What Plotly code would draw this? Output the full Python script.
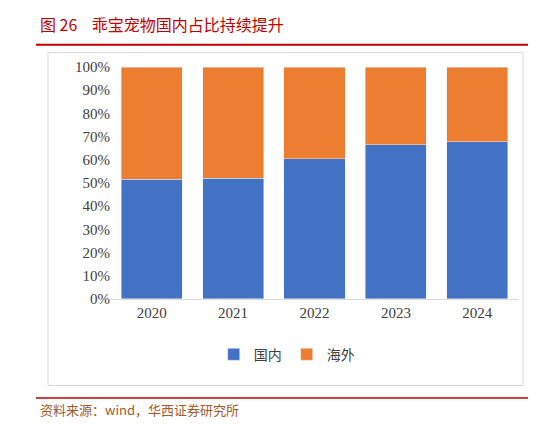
import plotly.graph_objects as go

years = ["2020", "2021", "2022", "2023", "2024"]
domestic = [51.5, 52.0, 60.5, 66.5, 67.8]
overseas = [100 - v for v in domestic]
yticks = [0, 10, 20, 30, 40, 50, 60, 70, 80, 90, 100]
ylabels = [f"{v}%" for v in yticks]

W, H = 536, 424
fig = go.Figure()
fig.add_bar(x=years, y=domestic, name="国内", marker_color="#4472C4", width=0.75)
fig.add_bar(x=years, y=overseas, name="海外", marker_color="#ED7D31", width=0.75)

def px(x): return x / W
def py(y): return 1 - y / H

fig.update_layout(
    width=W, height=H, barmode="stack",
    margin=dict(l=0, r=0, t=0, b=0),
    paper_bgcolor="white", plot_bgcolor="white",
    font=dict(family="Noto Sans CJK SC", size=14, color="#404040"),
    xaxis=dict(domain=[px(103), px(510)], tickfont=dict(family="Liberation Serif", size=15, color="#404040"), showline=True, linecolor="#D9D9D9"),
    yaxis=dict(domain=[py(294), py(53)], range=[0, 100], tickvals=yticks, ticktext=ylabels,
               tickfont=dict(family="Liberation Serif", size=15, color="#404040"), showgrid=False, zeroline=False),
    legend=dict(orientation="h", x=0.52, xanchor="center", y=py(352), yanchor="middle", traceorder="normal",
                font=dict(size=14, color="#404040"), itemwidth=30),
    showlegend=True,
    shapes=[
        dict(type="line", xref="paper", yref="paper", x0=px(28), x1=px(530), y0=py(30), y1=py(30), line=dict(color="#C00000", width=2)),
        dict(type="rect", xref="paper", yref="paper", x0=px(40), x1=px(515), y0=py(384), y1=py(38), line=dict(color="#D9D9D9", width=1)),
        dict(type="line", xref="paper", yref="paper", x0=px(28), x1=px(530), y0=py(397), y1=py(397), line=dict(color="#C00000", width=1.5)),
    ],
    annotations=[
        dict(text="图 26    乖宝宠物国内占比持续提升", xref="paper", yref="paper", x=px(30), y=py(8), xanchor="left", yanchor="middle",
             showarrow=False, font=dict(size=16, color="#C00000", family="Noto Sans CJK SC")),
        dict(text="资料来源：wind，华西证券研究所", xref="paper", yref="paper", x=px(30), y=py(409), xanchor="left", yanchor="middle",
             showarrow=False, font=dict(size=13, color="#A05A2C", family="Noto Sans CJK SC")),
    ],
)
fig.write_html("out.html")
